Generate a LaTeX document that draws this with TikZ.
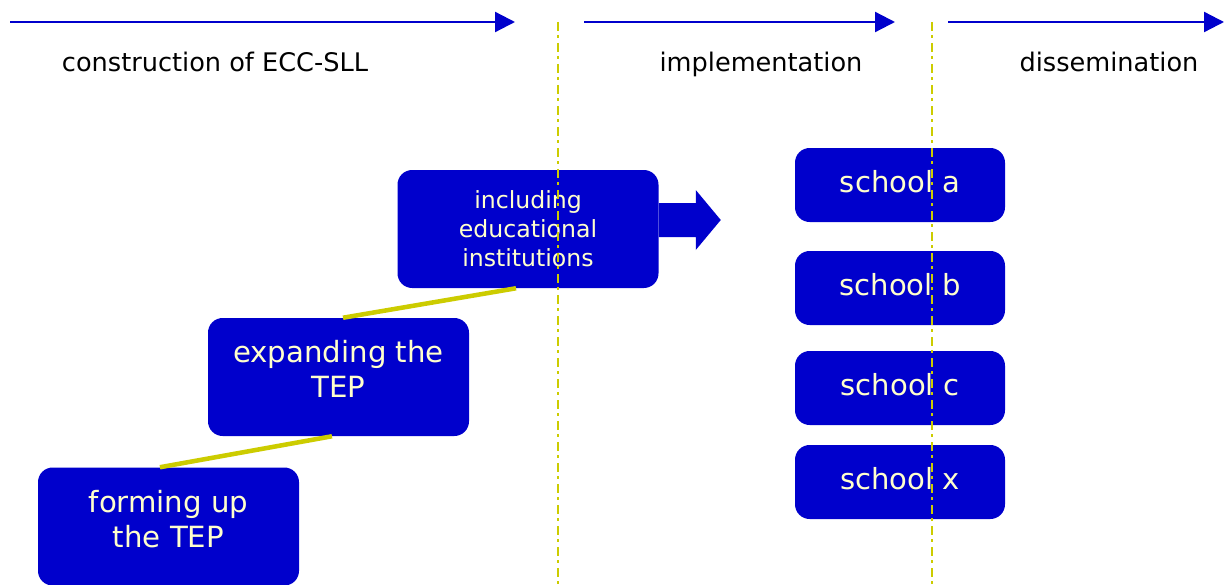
\documentclass[tikz,border=0pt]{standalone}
\usepackage{fontspec}
\setmainfont{DejaVu Sans}
\usetikzlibrary{arrows.meta}
\begin{document}
\begin{tikzpicture}[x=0.75pt,y=0.75pt,yscale=-1,xscale=1,
    stage/.style={fill={rgb, 255:red, 0; green, 0; blue, 204}, rounded corners=11pt, text={rgb, 255:red, 255; green, 255; blue, 204}, align=center, inner sep=0.75pt, minimum width=195.75pt, minimum height=88.5pt, text depth=12pt, font=\fontsize{21.9}{26.25}\selectfont},
    school/.style={stage, minimum width=157.5pt, minimum height=55.5pt, text depth=6pt, font=\fontsize{21.8}{26.25}\selectfont},
    phase/.style={draw={rgb, 255:red, 0; green, 0; blue, 204}, line width=1.7pt, -{Triangle[length=15pt,width=15pt]}},
    phaselabel/.style={anchor=base, inner sep=0.75pt, font=\fontsize{19.2}{23}\selectfont},
    link/.style={draw={rgb, 255:red, 204; green, 204; blue, 0}, line width=3.4pt},
    border/.style={draw={rgb, 255:red, 204; green, 204; blue, 0}, line width=1.3pt, dash pattern=on 6.75pt off 3pt on 2.25pt off 3.75pt}]
\useasboundingbox (0,0) rectangle (1224,585);
% time line
\draw [phase] (10,22) -- (515,22) ;
\draw [phase] (584,22) -- (895,22) ;
\draw [phase] (948,22) -- (1224,22) ;
\node [phaselabel] (construction) at (215,72) {construction of ECC-SLL};
\node [phaselabel] (implementation) at (761,72) {implementation};
\node [phaselabel] (dissemination) at (1109,72) {dissemination};
% steps
\node [stage, text depth=0pt, font=\fontsize{17.7}{21.75}\selectfont] (incl) at (528,229) {including\\educational\\institutions};
\node [stage] (expand) at (338.5,377) {expanding the\\TEP};
\node [stage] (forming) at (168.5,526.5) {forming up\\the TEP};
\draw [link] ([xshift=-9pt]incl.south) -- ([xshift=3.4pt]expand.north) ;
\draw [link] ([xshift=-4.9pt]expand.south) -- ([xshift=-6.4pt]forming.north) ;
\fill [fill={rgb, 255:red, 0; green, 0; blue, 204}] (incl.east) ++(0,-26) -- ++(37,0) -- ++(0,-13) -- ++(25,30) -- ++(-25,30) -- ++(0,-13) -- ++(-37,0) -- cycle ;
% schools
\node [school] (schoola) at (900,185) {school a};
\node [school] (schoolb) at (900,288) {school b};
\node [school] (schoolc) at (900,388) {school c};
\node [school] (schoolx) at (900,482) {school x};
% phase borders
\draw [border] (558,22) -- (558,585) ;
\draw [border] (932,22) -- (932,585) ;
\end{tikzpicture}
\end{document}
